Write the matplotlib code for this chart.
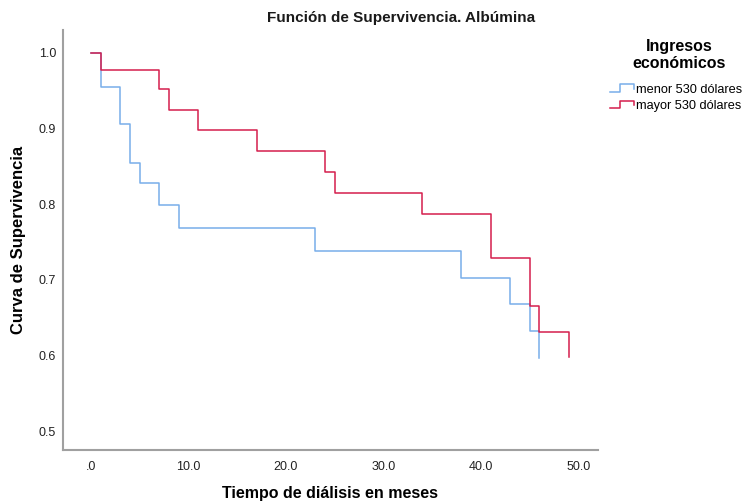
import matplotlib
matplotlib.use("Agg")
import matplotlib.pyplot as plt
from matplotlib.legend_handler import HandlerBase
from matplotlib.lines import Line2D

plt.rcParams['font.family'] = ['Liberation Sans', 'DejaVu Sans']

# Kaplan-Meier steps (time of event, survival after event)
menor_t = [1, 3, 4, 5, 7, 9, 23, 38, 43, 45, 46]
menor_s = [0.955, 0.906, 0.855, 0.828, 0.799, 0.769, 0.738, 0.702, 0.668, 0.632, 0.597]
mayor_t = [1, 7, 8, 11, 17, 24, 25, 34, 41, 45, 46, 49]
mayor_s = [0.977, 0.952, 0.925, 0.898, 0.871, 0.843, 0.815, 0.787, 0.729, 0.665, 0.631, 0.598]

group_names = ["menor 530 dólares", "mayor 530 dólares"]
colors = ["#78aeea", "#d51e4d"]

x_ticks = [0, 10, 20, 30, 40, 50]
x_labels = [".0", "10.0", "20.0", "30.0", "40.0", "50.0"]
y_ticks = [0.5, 0.6, 0.7, 0.8, 0.9, 1.0]
y_labels = ["0.5", "0.6", "0.7", "0.8", "0.9", "1.0"]


class StepHandler(HandlerBase):
    '''legend icon shaped like a small step'''
    def create_artists(self, legend, orig_handle, xdescent, ydescent,
                       width, height, fontsize, trans):
        w, h = width, height
        x0, y0 = -xdescent, -ydescent
        xs = [x0, x0 + 0.45 * w, x0 + 0.45 * w, x0 + w, x0 + w]
        ys = [y0 + 0.1 * h, y0 + 0.1 * h, y0 + 0.9 * h, y0 + 0.9 * h, y0 + 0.4 * h]
        ln = Line2D(xs, ys, color=orig_handle.get_color(), lw=1.1)
        ln.set_transform(trans)
        return [ln]


fig = plt.figure(figsize=(7.48, 5.01), dpi=100)
ax = fig.add_axes([63 / 748, 1 - 450 / 501, (598 - 63) / 748, (450 - 30) / 501])

handles = []
for t, s, c, name in zip([menor_t, mayor_t], [menor_s, mayor_s], colors, group_names):
    h, = ax.step([0] + t, [1.0] + s, where='post', color=c, lw=1.1, label=name)
    handles.append(h)

ax.set_xlim(-2.85, 52.0)
ax.set_ylim(0.5 - 19 / 757, 1.0 + 23 / 757)
ax.set_xticks(x_ticks)
ax.set_xticklabels(x_labels)
ax.set_yticks(y_ticks)
ax.set_yticklabels(y_labels)
ax.tick_params(axis='both', length=0, labelsize=9, colors='#222222')
ax.tick_params(axis='x', pad=8)
ax.tick_params(axis='y', pad=5)
for side in ['top', 'right']:
    ax.spines[side].set_visible(False)
for side in ['left', 'bottom']:
    ax.spines[side].set_color('#a0a0a0')
    ax.spines[side].set_linewidth(1.5)

ax.set_xlabel("Tiempo de diálisis en meses", fontsize=11.5, fontweight='bold', labelpad=9)
ax.set_ylabel("Curva de Supervivencia", fontsize=12, fontweight='bold', labelpad=9)
fig.text(401 / 748, 1 - 18 / 501, "Función de Supervivencia. Albúmina",
         ha='center', va='center', fontsize=11, fontweight='bold', color='#1a1a1a')

# legend title and entries
fig.text(679 / 748, 1 - 55 / 501, "Ingresos\neconómicos", ha='center', va='center',
         fontsize=11.5, fontweight='bold', linespacing=1.1, multialignment='center')
leg = fig.legend(handles=handles, loc='upper left',
                 bbox_to_anchor=(598 / 748, 1 - 72 / 501),
                 frameon=False, fontsize=9.2, handlelength=1.9, handletextpad=0.2,
                 labelspacing=0.35, handler_map={Line2D: StepHandler()})

plt.savefig("out.png", dpi=100)
